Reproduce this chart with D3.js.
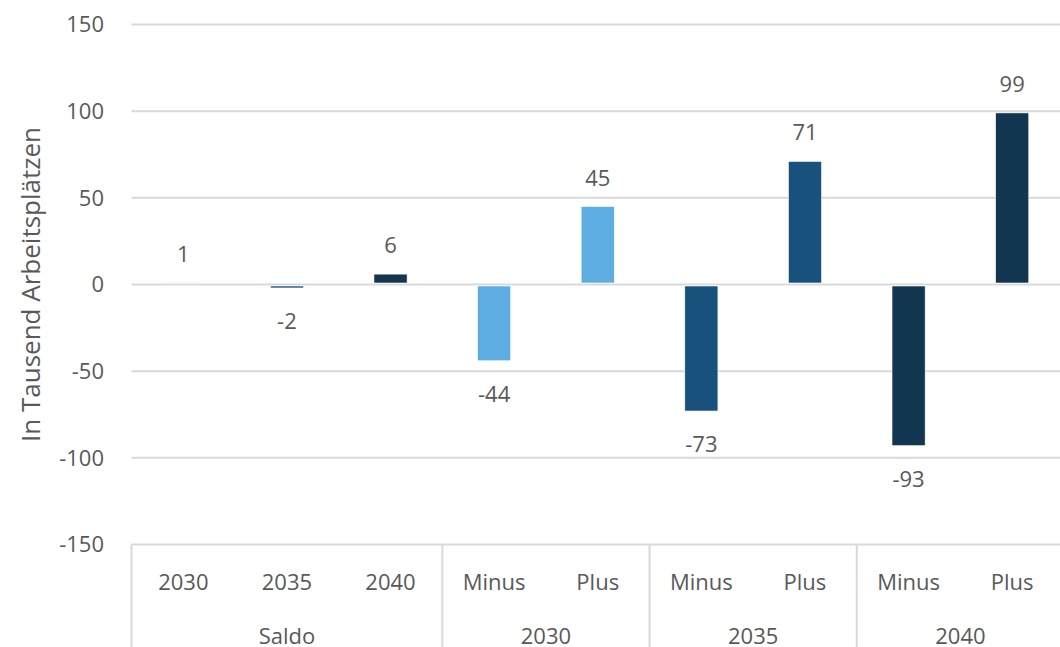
<!DOCTYPE html>
<html>
<head>
<meta charset="utf-8">
<script src="https://cdn.jsdelivr.net/npm/d3@7"></script>
<style>
  body { margin: 0; background: #fff; }
  text { font-family: "Open Sans", sans-serif; fill: #595959; }
</style>
</head>
<body>
<script>
// size of the whole picture
var width = 1060;
var height = 647;

// data
var groups = ["Saldo", "2030", "2035", "2040"];
var columns = ["2030", "2035", "2040", "Minus", "Plus", "Minus", "Plus", "Minus", "Plus"];
var columnGroup = ["Saldo", "Saldo", "Saldo", "2030", "2030", "2035", "2035", "2040", "2040"];
var values = [1, -2, 6, -44, 45, -73, 71, -93, 99];
var yTicks = [150, 100, 50, 0, -50, -100, -150];
var yearOfColumn = ["2030", "2035", "2040", "2030", "2030", "2035", "2035", "2040", "2040"];
var yearColors = { "2030": "#5dade2", "2035": "#17517c", "2040": "#12364f" };

// plot area (window.top is read-only, so no "top" here)
var plotLeft = 131.5, plotRight = 1064, plotTop = 24.5, plotBottom = 544.5;

var svg = d3.select("body")
    .append("svg")
    .attr("width", width)
    .attr("height", height);

var x = d3.scaleBand()
    .domain(d3.range(columns.length))
    .range([plotLeft, plotRight])
    .paddingInner(0.68)
    .paddingOuter(0.34);

var y = d3.scaleLinear()
    .domain([-150, 150])
    .range([plotBottom, plotTop]);

// gridlines
svg.append("g")
  .selectAll("line")
  .data(yTicks)
  .enter().append("line")
    .attr("x1", plotLeft)
    .attr("x2", width)
    .attr("y1", function(d) { return y(d); })
    .attr("y2", function(d) { return y(d); })
    .attr("stroke", "#d9d9d9")
    .attr("stroke-width", 2);

// y tick labels
svg.append("g")
  .selectAll("text")
  .data(yTicks)
  .enter().append("text")
    .attr("x", 104)
    .attr("y", function(d) { return y(d); })
    .attr("dy", "0.35em")
    .attr("text-anchor", "end")
    .style("font-size", "22px")
    .text(function(d) { return d; });

// y title
svg.append("text")
    .attr("transform", "translate(40," + y(0) + ") rotate(-90)")
    .attr("text-anchor", "middle")
    .style("font-size", "26px")
    .text("In Tausend Arbeitsplätzen");

// bars
svg.append("g")
  .selectAll("rect")
  .data(values)
  .enter().append("rect")
    .attr("x", function(d, i) { return x(i); })
    .attr("width", x.bandwidth())
    .attr("y", function(d) { return d >= 0 ? y(d) : y(0) + 1.5; })
    .attr("height", function(d) { return d >= 0 ? Math.max(0, y(0) - y(d) - 1.5) : Math.max(0, y(d) - y(0) - 1.5); })
    .attr("fill", function(d, i) { return yearColors[yearOfColumn[i]]; })
    .attr("stroke", "#fff")
    .attr("stroke-width", 0.6);

// data labels
svg.append("g")
  .selectAll("text")
  .data(values)
  .enter().append("text")
    .attr("x", function(d, i) { return x(i) + x.bandwidth() / 2; })
    .attr("y", function(d) { return d >= 0 ? y(d) - 21 : y(d) + 41; })
    .attr("text-anchor", "middle")
    .style("font-size", "22px")
    .text(function(d) { return d; });

// category labels
var step = x.step();
svg.append("g")
  .selectAll("text")
  .data(columns)
  .enter().append("text")
    .attr("x", function(d, i) { return x(i) + x.bandwidth() / 2; })
    .attr("y", 590)
    .attr("text-anchor", "middle")
    .style("font-size", "22px")
    .text(function(d) { return d; });

// group labels and separators
var groupSpans = groups.map(function(g) {
  var idx = d3.range(columns.length).filter(function(i) { return columnGroup[i] === g; });
  return { name: g, x0: plotLeft + idx[0] * step, x1: plotLeft + (idx[idx.length - 1] + 1) * step };
});

svg.append("g")
  .selectAll("line")
  .data(groupSpans)
  .enter().append("line")
    .attr("x1", function(d) { return d.x0; })
    .attr("x2", function(d) { return d.x0; })
    .attr("y1", plotBottom)
    .attr("y2", height)
    .attr("stroke", "#d9d9d9")
    .attr("stroke-width", 2);

svg.append("g")
  .selectAll("text")
  .data(groupSpans)
  .enter().append("text")
    .attr("x", function(d) { return (d.x0 + d.x1) / 2; })
    .attr("y", 644)
    .attr("text-anchor", "middle")
    .style("font-size", "22px")
    .text(function(d) { return d.name; });
</script>
</body>
</html>
